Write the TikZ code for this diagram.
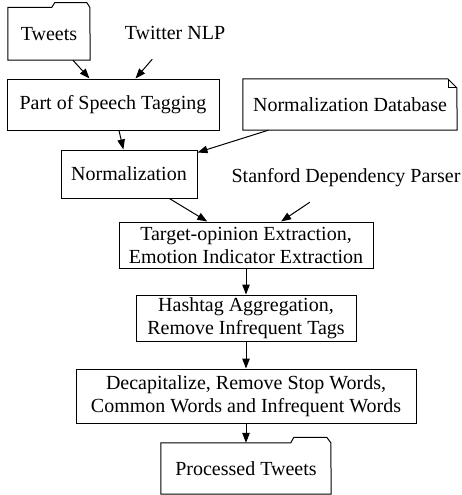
\documentclass[tikz,border=0pt]{standalone}
\usepackage{fontspec}
\setmainfont{Liberation Serif}
\usetikzlibrary{arrows.meta}
\begin{document}
\begin{tikzpicture}[x=1pt,y=-1pt,
  txt/.style={inner sep=0pt, font=\fontsize{20}{23}\selectfont, align=center},
  box/.style={txt, draw, line width=1pt},
  outline/.style={line width=1pt, line join=miter},
  arr/.style={line width=1pt, -{Triangle[length=10pt,width=7.5pt]}}]
\useasboundingbox (0,0) rectangle (462,495);

% nodes
\node[txt, minimum width=82pt, minimum height=52.5pt] (tweets) at (49,33.75) {Tweets};
\draw[outline] (tweets.north west) -- ++(44,0) -- ++(3,-4.7) -- ++(32,0) -- ++(3,4.7)
  -- (tweets.south east) -- (tweets.south west) -- cycle;

\node[txt, minimum width=100pt, minimum height=52pt] (twnlp) at (175,33) {Twitter NLP};

\node[box, minimum width=212pt, minimum height=51pt] (pos) at (113,104.5) {Part of Speech Tagging};

\node[txt, minimum width=214pt, minimum height=51pt] (normdb) at (350,104.5) {Normalization Database};
\draw[outline] (normdb.south west) -- (normdb.north west) -- ++(205,0) -- ++(9,9)
  -- (normdb.south east) -- cycle;
\draw[outline] (normdb.north east) ++(-9,0) -- ++(0,9) -- ++(9,0);

\node[box, minimum width=136pt, minimum height=48pt] (norm) at (129,174) {Normalization};

\node[txt, minimum width=230pt, minimum height=48pt] (stanford) at (346,178) {Stanford Dependency Parser};

\node[box, minimum width=254pt, minimum height=46pt] (target) at (246,245)
  {Target-opinion Extraction,\\Emotion Indicator Extraction};

\node[box, minimum width=220pt, minimum height=46pt] (hashtag) at (246,318)
  {Hashtag Aggregation,\\Remove Infrequent Tags};

\node[box, minimum width=340pt, minimum height=54pt] (decap) at (246,396)
  {Decapitalize, Remove Stop Words,\\Common Words and Infrequent Words};

\node[txt, minimum width=170pt, minimum height=51pt] (processed) at (246,468.5) {Processed Tweets};
\draw[outline] (processed.north west) -- ++(130,0) -- ++(3,-5.5) -- ++(33,0) -- ++(4,5.5)
  -- (processed.south east) -- (processed.south west) -- cycle;

% connectors
\draw[arr] (tweets) -- (pos);
\draw[arr] (twnlp) -- (pos);
\draw[arr] (pos) -- (norm);
\draw[arr] (normdb) -- (norm);
\draw[arr] (norm) -- (target);
\draw[arr] (stanford) -- (target);
\draw[arr] (target) -- (hashtag);
\draw[arr] (hashtag) -- (decap);
\draw[arr] (decap) -- (processed);
\end{tikzpicture}
\end{document}
